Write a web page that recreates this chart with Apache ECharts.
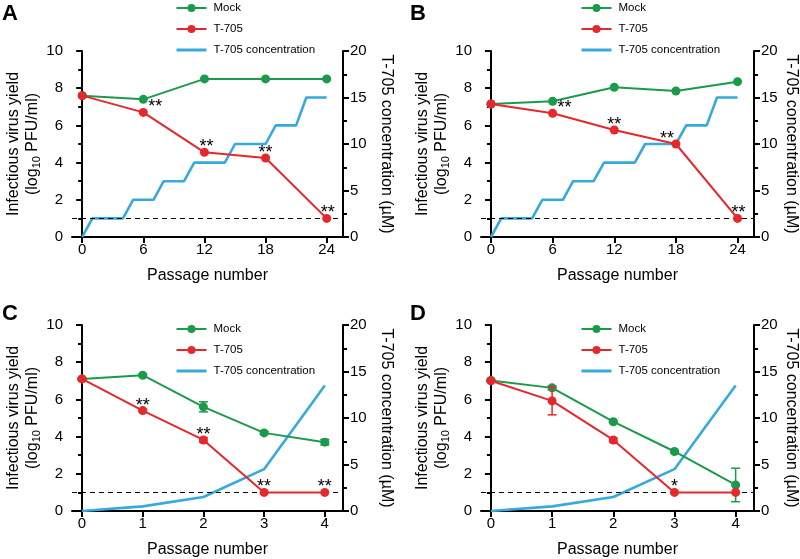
<!DOCTYPE html>
<html>
<head>
<meta charset="utf-8">
<script src="https://cdn.jsdelivr.net/npm/echarts@6/dist/echarts.min.js"></script>
<style>
html,body{margin:0;padding:0;background:#fff;}
#chart{width:800px;height:559px;}
</style>
</head>
<body>
<div id="chart"></div>
<script>
// ---------------- DATA ----------------
const panelLetters = ['A', 'B', 'C', 'D'];
const passagesLong = [0, 6, 12, 18, 24];
const passagesShort = [0, 1, 2, 3, 4];

const mockA = [7.6, 7.4, 8.5, 8.5, 8.5];
const t705A = [7.6, 6.7, 4.55, 4.25, 1.0];
const starsA = ['', '**', '**', '**', '**'];
const concPassA = [0, 1, 4, 5, 7, 8, 10, 11, 14, 15, 18, 19, 21, 22, 24];
const concA = [0, 2, 2, 4, 4, 6, 6, 8, 8, 10, 10, 12, 12, 15, 15];

const mockB = [7.15, 7.3, 8.05, 7.85, 8.35];
const t705B = [7.15, 6.65, 5.75, 5.0, 1.0];
const starsB = ['', '**', '**', '**', '**'];
const concPassB = [0, 1, 4, 5, 7, 8, 10, 11, 14, 15, 18, 19, 21, 22, 24];
const concB = [0, 2, 2, 4, 4, 6, 6, 8, 8, 10, 10, 12, 12, 15, 15];

const mockC = [7.1, 7.3, 5.6, 4.2, 3.7];
const mockErrC = [0.04, 0.06, 0.27, 0.08, 0.15];
const t705C = [7.1, 5.4, 3.82, 1.0, 1.0];
const t705ErrC = [0.04, 0.07, 0.12, 0, 0];
const starsC = ['', '**', '**', '**', '**'];
const concC = [0, 0.5, 1.5, 4.5, 13.5];

const mockD = [7.02, 6.62, 4.8, 3.2, 1.4];
const mockErrD = [0.05, 0.1, 0.04, 0.05, 0.9];
const t705D = [7.0, 5.92, 3.82, 1.0, 1.0];
const t705ErrD = [0.05, 0.75, 0.1, 0, 0];
const starsD = ['', '', '', '*', ''];
const concD = [0, 0.5, 1.5, 4.5, 13.5];

const detectionLimit = 1;
const leftTicks = { min: 0, max: 10, interval: 2 };
const rightTicks = { min: 0, max: 20, interval: 5 };

// ---------------- STYLE / LAYOUT ----------------
const FONT = 'Liberation Sans, Arial, Helvetica, sans-serif';
const GREEN = '#1c9a4b';
const RED = '#e5282b';
const BLUE = '#36a9dd';

const panels = [
  { pass: passagesLong, mock: mockA, t705: t705A, stars: starsA, cx: concPassA, cy: concA,
    grid: { left: 72, top: 51, width: 271, height: 186 }, xr: [-1, 25.6],
    legend: { left: 175, top: 1 }, rightGap: 35, letter: [2, 3], starDx: [0, 12, 2, 0, 1] },
  { pass: passagesLong, mock: mockB, t705: t705B, stars: starsB, cx: concPassB, cy: concB,
    grid: { left: 481, top: 51, width: 273, height: 186 }, xr: [-0.97, 25.6],
    legend: { left: 580, top: 1 }, rightGap: 29, letter: [410, 3], starDx: [0, 12, 0, -9, 1] },
  { pass: passagesShort, mock: mockC, t705: t705C, stars: starsC, cx: passagesShort, cy: concC,
    mockErr: mockErrC, t705Err: t705ErrC,
    grid: { left: 72, top: 325, width: 271, height: 186 }, xr: [-0.165, 4.3],
    legend: { left: 175, top: 322 }, rightGap: 35, letter: [2, 303], starDx: [0, 0, 0, 0, 0] },
  { pass: passagesShort, mock: mockD, t705: t705D, stars: starsD, cx: passagesShort, cy: concD,
    mockErr: mockErrD, t705Err: t705ErrD,
    grid: { left: 481, top: 325, width: 273, height: 186 }, xr: [-0.162, 4.3],
    legend: { left: 580, top: 322 }, rightGap: 29, letter: [410, 303], starDx: [0, 0, 0, 0, 0] }
];

const axisLineStyle = { color: '#000', width: 2 };
const grids = [], xAxes = [], yAxes = [], series = [], legends = [], graphics = [];

function errorSeries(xi, yi, xs, ys, errs, color) {
  const data = [];
  xs.forEach((x, i) => { if (errs[i] > 0) data.push([x, ys[i] - errs[i], ys[i] + errs[i]]); });
  return {
    type: 'custom', xAxisIndex: xi, yAxisIndex: yi, silent: true, z: 4,
    encode: { x: 0, y: [1, 2] },
    data: data,
    renderItem: function (params, api) {
      const x = api.value(0);
      const lo = api.coord([x, api.value(1)]);
      const hi = api.coord([x, api.value(2)]);
      const w = 4.5;
      const st = { stroke: color, lineWidth: 1.5 };
      return {
        type: 'group', children: [
          { type: 'line', shape: { x1: lo[0], y1: lo[1], x2: hi[0], y2: hi[1] }, style: st },
          { type: 'line', shape: { x1: lo[0] - w, y1: lo[1], x2: lo[0] + w, y2: lo[1] }, style: st },
          { type: 'line', shape: { x1: hi[0] - w, y1: hi[1], x2: hi[0] + w, y2: hi[1] }, style: st }
        ]
      };
    }
  };
}

panels.forEach((p, i) => {
  grids.push(Object.assign({ containLabel: false, outerBoundsMode: 'none' }, p.grid));
  const tickVals = p.pass.slice();
  xAxes.push({
    type: 'value', gridIndex: i, min: p.xr[0], max: p.xr[1],
    name: 'Passage number', nameLocation: 'middle', nameGap: 31,
    nameTextStyle: { fontFamily: FONT, fontSize: 16, color: '#000' },
    axisLine: { show: true, onZero: false, lineStyle: axisLineStyle },
    axisTick: { show: true, length: 6, inside: false, lineStyle: { width: 2, color: '#000' }, customValues: tickVals },
    axisLabel: { fontFamily: FONT, fontSize: 15, color: '#000', margin: 5, customValues: tickVals },
    splitLine: { show: false }
  });
  yAxes.push({
    type: 'value', gridIndex: i, position: 'left',
    min: leftTicks.min, max: leftTicks.max, interval: leftTicks.interval,
    name: 'Infectious virus yield\n(log{s|10} PFU/ml)',
    nameLocation: 'middle', nameGap: 29, nameRotate: 90,
    nameTextStyle: {
      fontFamily: FONT, fontSize: 16, color: '#000', lineHeight: 19,
      rich: { s: { fontFamily: FONT, fontSize: 11, color: '#000', verticalAlign: 'bottom', lineHeight: 19, padding: [7, 0, 0, 0] } }
    },
    axisLine: { show: true, lineStyle: axisLineStyle },
    axisTick: { show: true, length: 6, lineStyle: { width: 2, color: '#000' } },
    minorTick: { show: true, splitNumber: 2, length: 4, lineStyle: { width: 2, color: '#000' } },
    axisLabel: { fontFamily: FONT, fontSize: 15, color: '#000', margin: 9 },
    splitLine: { show: false }, minorSplitLine: { show: false }
  });
  yAxes.push({
    type: 'value', gridIndex: i, position: 'right',
    min: rightTicks.min, max: rightTicks.max, interval: rightTicks.interval,
    name: 'T-705 concentration (µM)',
    nameLocation: 'middle', nameGap: p.rightGap, nameRotate: -90,
    nameTextStyle: { fontFamily: FONT, fontSize: 16, color: '#000' },
    axisLine: { show: true, lineStyle: axisLineStyle },
    axisTick: { show: true, length: 6, lineStyle: { width: 2, color: '#000' } },
    minorTick: { show: true, splitNumber: 2, length: 4, lineStyle: { width: 2, color: '#000' } },
    axisLabel: { fontFamily: FONT, fontSize: 15, color: '#000', margin: 7 },
    splitLine: { show: false }, minorSplitLine: { show: false }
  });
  const yl = i * 2, yr = i * 2 + 1;

  series.push({
    name: 'T-705 concentration', type: 'line', xAxisIndex: i, yAxisIndex: yr,
    data: p.cx.map((x, k) => [x, p.cy[k]]), symbol: 'none', showSymbol: false,
    lineStyle: { color: BLUE, width: 2.6 }, itemStyle: { color: BLUE }, z: 2, silent: true,
    markLine: {
      silent: true, symbol: ['none', 'none'], label: { show: false },
      lineStyle: { color: '#000', type: [5, 4], width: 1.2 },
      data: [{ yAxis: detectionLimit * (rightTicks.max / leftTicks.max) }]
    }
  });
  series.push({
    name: 'Mock', type: 'line', xAxisIndex: i, yAxisIndex: yl,
    data: p.pass.map((x, k) => [x, p.mock[k]]), symbol: 'circle', symbolSize: 9,
    lineStyle: { color: GREEN, width: 2 }, itemStyle: { color: GREEN }, z: 3, silent: true
  });
  series.push({
    name: 'T-705', type: 'line', xAxisIndex: i, yAxisIndex: yl,
    data: p.pass.map((x, k) => [x, p.t705[k]]), symbol: 'circle', symbolSize: 9,
    lineStyle: { color: RED, width: 2 }, itemStyle: { color: RED }, z: 5, silent: true,
    label: {
      show: true, position: 'inside', fontFamily: FONT, fontSize: 18, color: '#000',
      formatter: (q) => p.stars[q.dataIndex] || '',
    },
    labelLayout: (q) => ({ dx: p.starDx[q.dataIndex], dy: -5 })
  });
  if (p.mockErr) series.push(errorSeries(i, yl, p.pass, p.mock, p.mockErr, GREEN));
  if (p.t705Err) series.push(errorSeries(i, yl, p.pass, p.t705, p.t705Err, RED));

  legends.push({
    orient: 'vertical', left: p.legend.left, top: p.legend.top, padding: 0,
    data: ['Mock', 'T-705', { name: 'T-705 concentration', itemStyle: { opacity: 0 }, lineStyle: { width: 3 } }],
    itemWidth: 30, itemHeight: 10, itemGap: 7, selectedMode: false,
    textStyle: { fontFamily: FONT, fontSize: 11.5, color: '#000', lineHeight: 14, padding: [0, 0, 0, 2] }
  });
  graphics.push({
    type: 'text', left: p.letter[0], top: p.letter[1],
    style: { text: panelLetters[i], font: 'bold 22px ' + FONT, fill: '#000' }
  });
});

const chart = echarts.init(document.getElementById('chart'), null, { renderer: 'canvas' });
chart.setOption({
  animation: false,
  backgroundColor: '#fff',
  grid: grids, xAxis: xAxes, yAxis: yAxes, series: series, legend: legends, graphic: graphics
});
</script>
</body>
</html>
